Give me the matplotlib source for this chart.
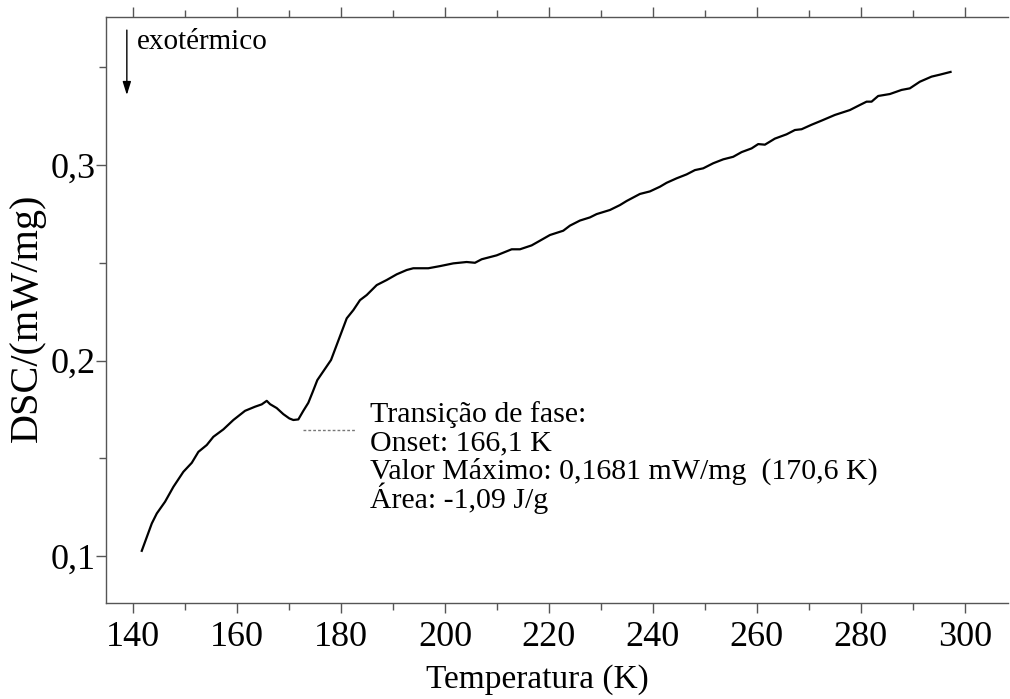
import matplotlib
matplotlib.use("Agg")
import matplotlib.pyplot as plt
from matplotlib.ticker import MultipleLocator, FuncFormatter

# DSC curve (temperature in K, heat flow in mW/mg)
temperatura = [
    141.67, 143.60, 144.56, 146.15, 147.75, 149.67, 151.29, 152.56, 154.17, 155.44,
    157.37, 159.29, 161.54, 163.46, 164.75, 165.71, 166.35, 167.63, 168.90, 170.06,
    170.83, 171.79, 172.75, 173.71, 174.56, 175.44, 178.08, 181.10, 182.37, 183.65,
    184.94, 186.87, 188.79, 190.71, 192.63, 193.90, 196.79, 199.04, 201.60, 204.17,
    205.77, 207.06, 209.94, 212.83, 214.42, 216.67, 218.27, 220.19, 222.75, 224.04,
    225.96, 227.88, 229.17, 231.73, 233.65, 234.94, 237.50, 239.42, 241.35, 242.63,
    244.56, 246.48, 248.08, 249.67, 251.60, 253.52, 255.44, 257.06, 258.98, 260.25,
    261.54, 263.46, 265.71, 267.31, 268.60, 270.52, 272.44, 275.00, 277.88, 279.81,
    281.10, 282.06, 283.33, 285.58, 287.83, 289.42, 291.35, 293.60, 295.19, 297.25,
]
dsc = [
    0.1027, 0.1167, 0.1218, 0.1278, 0.1354, 0.1431, 0.1477, 0.1533, 0.1568, 0.1610,
    0.1648, 0.1696, 0.1743, 0.1764, 0.1776, 0.1794, 0.1777, 0.1757, 0.1726, 0.1704,
    0.1696, 0.1699, 0.1743, 0.1784, 0.1840, 0.1900, 0.2003, 0.2216, 0.2258, 0.2309,
    0.2335, 0.2386, 0.2412, 0.2441, 0.2463, 0.2472, 0.2472, 0.2483, 0.2497, 0.2504,
    0.2500, 0.2518, 0.2538, 0.2569, 0.2569, 0.2589, 0.2613, 0.2642, 0.2664, 0.2690,
    0.2716, 0.2732, 0.2749, 0.2770, 0.2795, 0.2816, 0.2852, 0.2865, 0.2889, 0.2909,
    0.2932, 0.2952, 0.2974, 0.2983, 0.3009, 0.3029, 0.3042, 0.3066, 0.3085, 0.3107,
    0.3104, 0.3135, 0.3157, 0.3179, 0.3183, 0.3206, 0.3227, 0.3256, 0.3281, 0.3307,
    0.3324, 0.3324, 0.3353, 0.3363, 0.3384, 0.3392, 0.3426, 0.3452, 0.3462, 0.3476,
]

# onset marker of the phase transition
onset_T = [172.7, 182.7]
onset_dsc = [0.1644, 0.1644]

info_linhas = [
    "Transição de fase:",
    "Onset: 166,1 K",
    "Valor Máximo: 0,1681 mW/mg  (170,6 K)",
    "Área: -1,09 J/g",
]

plt.rcParams["font.family"] = ["Liberation Serif", "DejaVu Serif"]

fig = plt.figure(figsize=(10.1, 6.99), dpi=100)
ax = fig.add_axes([0.105, 0.1373, 0.893, 0.8384])

ax.plot(temperatura, dsc, color="black", lw=1.6)
ax.plot(onset_T, onset_dsc, color="#777777", lw=1.0, ls=(0, (2, 1.5)))

ax.set_xlim(134.8, 308.3)
ax.set_ylim(0.076, 0.3757)

ax.xaxis.set_major_locator(MultipleLocator(20))
ax.xaxis.set_minor_locator(MultipleLocator(10))
ax.yaxis.set_major_locator(MultipleLocator(0.1))
ax.yaxis.set_minor_locator(MultipleLocator(0.05))
ax.yaxis.set_major_formatter(FuncFormatter(lambda v, p: f"{v:.1f}".replace(".", ",")))

spine_col = "#555555"
for s in ["left", "bottom", "top"]:
    ax.spines[s].set_color(spine_col)
    ax.spines[s].set_linewidth(1.0)
ax.spines["right"].set_visible(False)

ax.tick_params(axis="both", which="both", direction="out", color=spine_col,
               labelsize=26, width=1.0)
ax.tick_params(axis="x", which="both", top=True, labeltop=False)
ax.tick_params(axis="both", which="major", length=7)
ax.tick_params(axis="both", which="minor", length=5)
ax.tick_params(axis="x", which="major", pad=6)
ax.tick_params(axis="y", which="major", pad=0.5)

ax.set_xlabel("Temperatura (K)", fontsize=24)
ax.xaxis.set_label_coords(0.478, -0.104)
ax.set_ylabel("DSC/(mW/mg)", fontsize=29)
ax.yaxis.set_label_coords(-0.067, 0.486)

# exothermic direction indicator
ax.annotate("", xy=(138.8, 0.3358), xytext=(138.8, 0.369),
            arrowprops=dict(arrowstyle="-|>,head_length=0.8,head_width=0.25",
                            color="black", lw=1.0, shrinkA=0, shrinkB=0))
ax.text(140.8, 0.3629, "exotérmico", fontsize=21, va="center", ha="left")

# transition summary, one line every 20.5 pt below the first baseline
for i, linha in enumerate(info_linhas):
    ax.annotate(linha, xy=(185.6, 0.1685), xycoords="data",
                xytext=(0, -20.5 * i), textcoords="offset points",
                fontsize=21.5, va="baseline", ha="left")

fig.savefig("out.png", dpi=100)
